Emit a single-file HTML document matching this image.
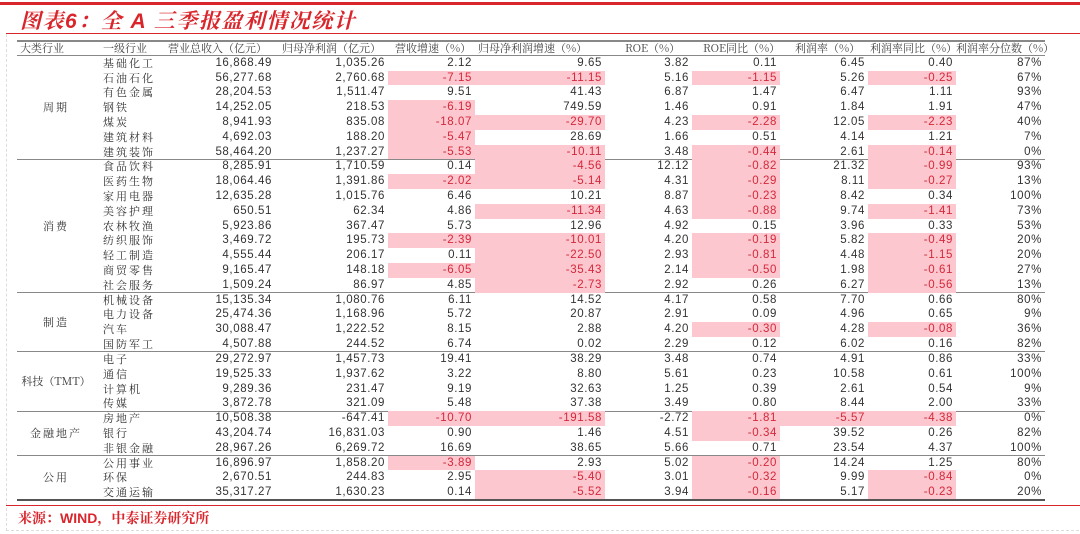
<!DOCTYPE html>
<html><head><meta charset="utf-8"><style>
body{margin:0;width:1080px;height:534px;background:#fff;position:relative;overflow:hidden;font-family:"Liberation Sans","Noto Serif CJK SC",serif;color:#333}
.topline{position:absolute;left:0;top:2px;width:1080px;height:3px;background:#d9262c}
.title{position:absolute;left:20px;top:5px;font-size:21px;font-weight:bold;font-style:italic;color:#d9262c;letter-spacing:1.5px}
.tline{position:absolute;left:6px;top:33px;width:1074px;height:1px;background:#d9262c}
.box{position:absolute;left:6px;top:34px;width:1072px;height:496px;border-left:1px dashed #ddd;border-bottom:1px dashed #ddd}
.r{position:absolute;left:95px;width:950px;height:14.81px;top:calc(55.7px + var(--i)*14.81px);display:flex;font-size:11.5px;line-height:14.81px}
.r span{display:block;height:100%;white-space:nowrap;overflow:hidden;box-sizing:border-box;text-align:right;padding-right:3px;letter-spacing:0.6px;flex:none}
.r span:nth-child(1){width:65px;text-align:left;padding-left:8px;font-family:"Noto Serif CJK SC",serif;font-size:11px;letter-spacing:2px}
.r span:nth-child(2){width:115px}
.r span:nth-child(3){width:113px}
.r span:nth-child(4){width:87px}
.r span:nth-child(5){width:130px}
.r span:nth-child(6){width:87px}
.r span:nth-child(7){width:88px}
.r span:nth-child(8){width:88px}
.r span:nth-child(9){width:88px}
.r span:nth-child(10){width:89px}
.r span.p{background:#fcc7ce;color:#d4283a}
.hd{position:absolute;left:17px;top:40px;width:1028px;height:13px;border-top:2px solid #888;border-bottom:1px solid #888;font-family:"Noto Serif CJK SC",serif;font-size:11px;color:#444;line-height:12px}
.hd span{position:absolute;top:0;white-space:nowrap}
.sep{position:absolute;left:17px;width:1028px;height:1px;background:#888;top:calc(55.2px + var(--i)*14.81px)}
.gl{position:absolute;left:17px;width:78px;text-align:center;font-family:"Noto Serif CJK SC",serif;font-size:11px;letter-spacing:2px;line-height:14.81px;top:calc(55.7px + var(--i)*14.81px)}
.bot{position:absolute;left:17px;top:499px;width:1028px;height:2px;background:#555}
.bline{position:absolute;left:6px;top:505px;width:1074px;height:1px;background:#d9262c}
.src{position:absolute;left:18px;top:508px;font-size:14px;font-weight:bold;color:#d9262c}
</style></head><body>
<div class="topline"></div>
<div class="title">图表6：全 A 三季报盈利情况统计</div>
<div class="tline"></div>
<div class="box"></div>
<div class="hd"><span style="left:3px">大类行业</span><span style="left:86px">一级行业</span><span style="left:151px">营业总收入（亿元）</span><span style="left:265px">归母净利润（亿元）</span><span style="left:378px">营收增速（%）</span><span style="left:461px">归母净利润增速（%）</span><span style="left:608px">ROE（%）</span><span style="left:686px">ROE同比（%）</span><span style="left:778px">利润率（%）</span><span style="left:853px">利润率同比（%）</span><span style="left:939px">利润率分位数（%）</span></div>

<div class="gl" style="--i:3">周期</div>
<div class="gl" style="--i:11">消费</div>
<div class="gl" style="--i:17.5">制造</div>
<div class="gl" style="--i:21.5;letter-spacing:0">科技（TMT）</div>
<div class="gl" style="--i:25">金融地产</div>
<div class="gl" style="--i:28">公用</div>

<div class="sep" style="--i:7"></div>
<div class="sep" style="--i:16"></div>
<div class="sep" style="--i:20"></div>
<div class="sep" style="--i:24"></div>
<div class="sep" style="--i:27"></div>

<div class="r" style="--i:0"><span>基础化工</span><span>16,868.49</span><span>1,035.26</span><span>2.12</span><span>9.65</span><span>3.82</span><span>0.11</span><span>6.45</span><span>0.40</span><span>87%</span></div>
<div class="r" style="--i:1"><span>石油石化</span><span>56,277.68</span><span>2,760.68</span><span class="p">-7.15</span><span class="p">-11.15</span><span>5.16</span><span class="p">-1.15</span><span>5.26</span><span class="p">-0.25</span><span>67%</span></div>
<div class="r" style="--i:2"><span>有色金属</span><span>28,204.53</span><span>1,511.47</span><span>9.51</span><span>41.43</span><span>6.87</span><span>1.47</span><span>6.47</span><span>1.11</span><span>93%</span></div>
<div class="r" style="--i:3"><span>钢铁</span><span>14,252.05</span><span>218.53</span><span class="p">-6.19</span><span>749.59</span><span>1.46</span><span>0.91</span><span>1.84</span><span>1.91</span><span>47%</span></div>
<div class="r" style="--i:4"><span>煤炭</span><span>8,941.93</span><span>835.08</span><span class="p">-18.07</span><span class="p">-29.70</span><span>4.23</span><span class="p">-2.28</span><span>12.05</span><span class="p">-2.23</span><span>40%</span></div>
<div class="r" style="--i:5"><span>建筑材料</span><span>4,692.03</span><span>188.20</span><span class="p">-5.47</span><span>28.69</span><span>1.66</span><span>0.51</span><span>4.14</span><span>1.21</span><span>7%</span></div>
<div class="r" style="--i:6"><span>建筑装饰</span><span>58,464.20</span><span>1,237.27</span><span class="p">-5.53</span><span class="p">-10.11</span><span>3.48</span><span class="p">-0.44</span><span>2.61</span><span class="p">-0.14</span><span>0%</span></div>
<div class="r" style="--i:7"><span>食品饮料</span><span>8,285.91</span><span>1,710.59</span><span>0.14</span><span class="p">-4.56</span><span>12.12</span><span class="p">-0.82</span><span>21.32</span><span class="p">-0.99</span><span>93%</span></div>
<div class="r" style="--i:8"><span>医药生物</span><span>18,064.46</span><span>1,391.86</span><span class="p">-2.02</span><span class="p">-5.14</span><span>4.31</span><span class="p">-0.29</span><span>8.11</span><span class="p">-0.27</span><span>13%</span></div>
<div class="r" style="--i:9"><span>家用电器</span><span>12,635.28</span><span>1,015.76</span><span>6.46</span><span>10.21</span><span>8.87</span><span class="p">-0.23</span><span>8.42</span><span>0.34</span><span>100%</span></div>
<div class="r" style="--i:10"><span>美容护理</span><span>650.51</span><span>62.34</span><span>4.86</span><span class="p">-11.34</span><span>4.63</span><span class="p">-0.88</span><span>9.74</span><span class="p">-1.41</span><span>73%</span></div>
<div class="r" style="--i:11"><span>农林牧渔</span><span>5,923.86</span><span>367.47</span><span>5.73</span><span>12.96</span><span>4.92</span><span>0.15</span><span>3.96</span><span>0.33</span><span>53%</span></div>
<div class="r" style="--i:12"><span>纺织服饰</span><span>3,469.72</span><span>195.73</span><span class="p">-2.39</span><span class="p">-10.01</span><span>4.20</span><span class="p">-0.19</span><span>5.82</span><span class="p">-0.49</span><span>20%</span></div>
<div class="r" style="--i:13"><span>轻工制造</span><span>4,555.44</span><span>206.17</span><span>0.11</span><span class="p">-22.50</span><span>2.93</span><span class="p">-0.81</span><span>4.48</span><span class="p">-1.15</span><span>20%</span></div>
<div class="r" style="--i:14"><span>商贸零售</span><span>9,165.47</span><span>148.18</span><span class="p">-6.05</span><span class="p">-35.43</span><span>2.14</span><span class="p">-0.50</span><span>1.98</span><span class="p">-0.61</span><span>27%</span></div>
<div class="r" style="--i:15"><span>社会服务</span><span>1,509.24</span><span>86.97</span><span>4.85</span><span class="p">-2.73</span><span>2.92</span><span>0.26</span><span>6.27</span><span class="p">-0.56</span><span>13%</span></div>
<div class="r" style="--i:16"><span>机械设备</span><span>15,135.34</span><span>1,080.76</span><span>6.11</span><span>14.52</span><span>4.17</span><span>0.58</span><span>7.70</span><span>0.66</span><span>80%</span></div>
<div class="r" style="--i:17"><span>电力设备</span><span>25,474.36</span><span>1,168.96</span><span>5.72</span><span>20.87</span><span>2.91</span><span>0.09</span><span>4.96</span><span>0.65</span><span>9%</span></div>
<div class="r" style="--i:18"><span>汽车</span><span>30,088.47</span><span>1,222.52</span><span>8.15</span><span>2.88</span><span>4.20</span><span class="p">-0.30</span><span>4.28</span><span class="p">-0.08</span><span>36%</span></div>
<div class="r" style="--i:19"><span>国防军工</span><span>4,507.88</span><span>244.52</span><span>6.74</span><span>0.02</span><span>2.29</span><span>0.12</span><span>6.02</span><span>0.16</span><span>82%</span></div>
<div class="r" style="--i:20"><span>电子</span><span>29,272.97</span><span>1,457.73</span><span>19.41</span><span>38.29</span><span>3.48</span><span>0.74</span><span>4.91</span><span>0.86</span><span>33%</span></div>
<div class="r" style="--i:21"><span>通信</span><span>19,525.33</span><span>1,937.62</span><span>3.22</span><span>8.80</span><span>5.61</span><span>0.23</span><span>10.58</span><span>0.61</span><span>100%</span></div>
<div class="r" style="--i:22"><span>计算机</span><span>9,289.36</span><span>231.47</span><span>9.19</span><span>32.63</span><span>1.25</span><span>0.39</span><span>2.61</span><span>0.54</span><span>9%</span></div>
<div class="r" style="--i:23"><span>传媒</span><span>3,872.78</span><span>321.09</span><span>5.48</span><span>37.38</span><span>3.49</span><span>0.80</span><span>8.44</span><span>2.00</span><span>33%</span></div>
<div class="r" style="--i:24"><span>房地产</span><span>10,508.38</span><span>-647.41</span><span class="p">-10.70</span><span class="p">-191.58</span><span>-2.72</span><span class="p">-1.81</span><span class="p">-5.57</span><span class="p">-4.38</span><span>0%</span></div>
<div class="r" style="--i:25"><span>银行</span><span>43,204.74</span><span>16,831.03</span><span>0.90</span><span>1.46</span><span>4.51</span><span class="p">-0.34</span><span>39.52</span><span>0.26</span><span>82%</span></div>
<div class="r" style="--i:26"><span>非银金融</span><span>28,967.26</span><span>6,269.72</span><span>16.69</span><span>38.65</span><span>5.66</span><span>0.71</span><span>23.54</span><span>4.37</span><span>100%</span></div>
<div class="r" style="--i:27"><span>公用事业</span><span>16,896.97</span><span>1,858.20</span><span class="p">-3.89</span><span>2.93</span><span>5.02</span><span class="p">-0.20</span><span>14.24</span><span>1.25</span><span>80%</span></div>
<div class="r" style="--i:28"><span>环保</span><span>2,670.51</span><span>244.83</span><span>2.95</span><span class="p">-5.40</span><span>3.01</span><span class="p">-0.32</span><span>9.99</span><span class="p">-0.84</span><span>0%</span></div>
<div class="r" style="--i:29"><span>交通运输</span><span>35,317.27</span><span>1,630.23</span><span>0.14</span><span class="p">-5.52</span><span>3.94</span><span class="p">-0.16</span><span>5.17</span><span class="p">-0.23</span><span>20%</span></div>

<div class="bot"></div>
<div class="bline"></div>
<div class="src">来源：WIND，中泰证券研究所</div>
</body></html>
